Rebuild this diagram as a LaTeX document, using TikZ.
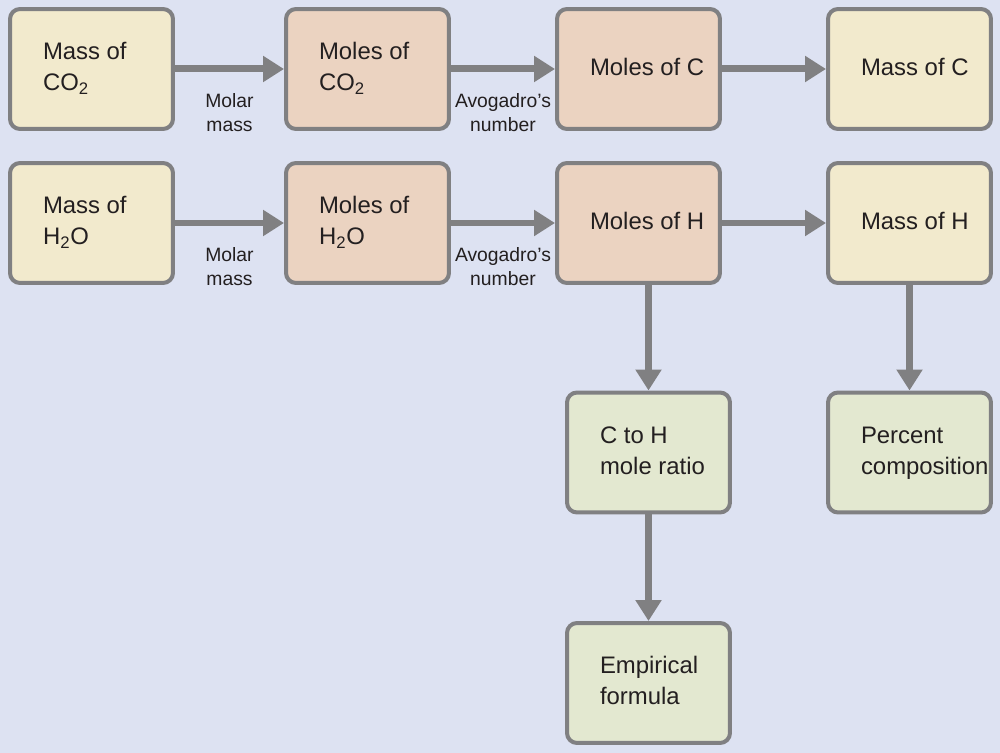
\documentclass[tikz,border=0pt]{standalone}
\usepackage{fontspec}
\setmainfont{Liberation Sans}
\usetikzlibrary{arrows.meta}
\definecolor{bgc}{RGB}{221,226,242}
\definecolor{yelc}{RGB}{242,234,205}
\definecolor{salc}{RGB}{235,211,193}
\definecolor{grnc}{RGB}{227,232,208}
\definecolor{edgec}{RGB}{128,128,130}
\definecolor{inkc}{RGB}{35,31,32}
\newcommand{\bt}[1]{\makebox[1.94cm][l]{\begin{tabular}{@{}l@{}}#1\end{tabular}}}
\newcommand{\lt}[1]{\begin{tabular}{@{}c@{}}#1\end{tabular}}
\newcommand{\sbtwo}{\smash{\textsubscript{2}}}
\begin{document}
\begin{tikzpicture}[x=0.02cm,y=-0.02cm,
  box/.style={draw=edgec, line width=0.08cm, rounded corners=0.2cm,
    minimum width=3.26cm, minimum height=2.4cm, inner sep=0pt, text=inkc,
    font=\fontsize{13.6}{17.6}\selectfont},
  ybox/.style={box, fill=yelc},
  sbox/.style={box, fill=salc},
  gbox/.style={box, fill=grnc},
  arr/.style={draw=edgec, line width=0.14cm, -{Triangle[length=0.42cm,width=0.5cm]}},
  lbl/.style={font=\fontsize{11}{13.6}\selectfont, text=inkc, inner sep=0pt}]
\useasboundingbox (0,0) rectangle (1000,753);
\fill[bgc] (0,0) rectangle (1000,753);
% row 1
\node[ybox] (mco2) at (91.5,69) {\bt{Mass of\\CO\sbtwo}};
\node[sbox] (nco2) at (367.5,69) {\bt{Moles of\\CO\sbtwo}};
\node[sbox] (nc) at (638.5,69) {\bt{Moles of C}};
\node[ybox] (mc) at (909.5,69) {\bt{Mass of C}};
% row 2
\node[ybox] (mh2o) at (91.5,223) {\bt{Mass of\\H\sbtwo O}};
\node[sbox] (nh2o) at (367.5,223) {\bt{Moles of\\H\sbtwo O}};
\node[sbox] (nh) at (638.5,223) {\bt{Moles of H}};
\node[ybox] (mh) at (909.5,223) {\bt{Mass of H}};
% lower
\node[gbox] (ratio) at (648.5,452.5) {\bt{C to H\\mole ratio}};
\node[gbox] (pct) at (909.5,452.5) {\bt{Percent\\composition}};
\node[gbox] (emp) at (648.5,683) {\bt{Empirical\\formula}};
% arrows
\draw[arr] (mco2) -- node[lbl, below=0.36cm] (l1) {\lt{Molar\\mass}} (nco2);
\draw[arr] (nco2) -- node[lbl, below=0.36cm] (l2) {\lt{Avogadro’s\\number}} (nc);
\draw[arr] (nc) -- (mc);
\draw[arr] (mh2o) -- node[lbl, below=0.36cm] (l3) {\lt{Molar\\mass}} (nh2o);
\draw[arr] (nh2o) -- node[lbl, below=0.36cm] (l4) {\lt{Avogadro’s\\number}} (nh);
\draw[arr] (nh) -- (mh);
\draw[arr] (nh.south -| ratio.north) -- (ratio.north);
\draw[arr] (mh) -- (pct);
\draw[arr] (ratio) -- (emp);
\end{tikzpicture}
\end{document}
